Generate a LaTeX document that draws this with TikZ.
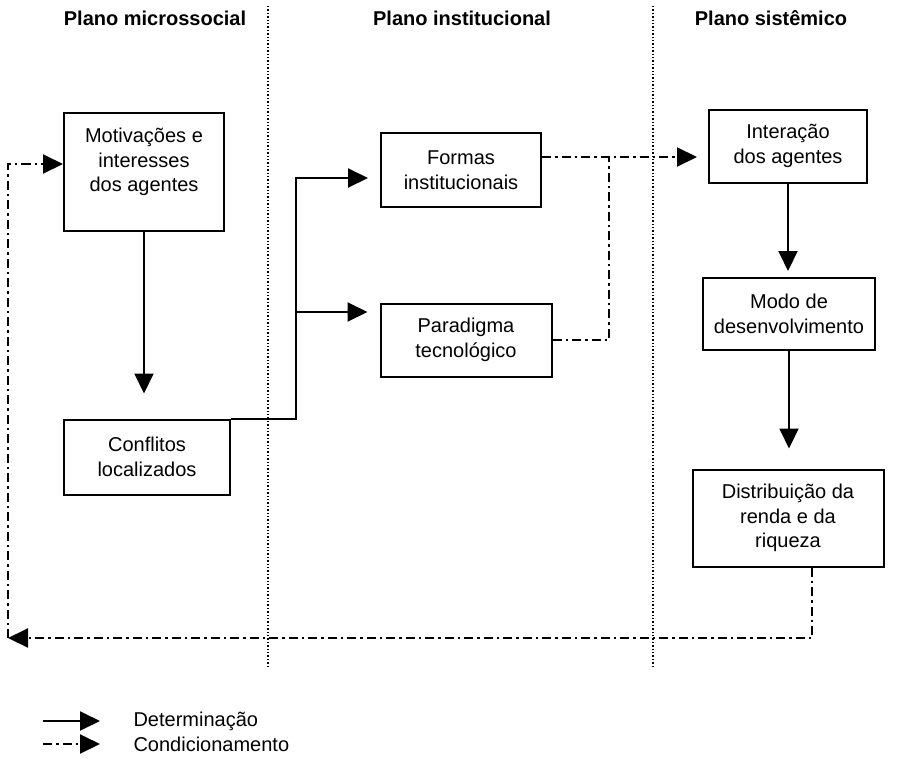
\documentclass[tikz,border=0pt]{standalone}
\usepackage{fontspec}
\setmainfont{Liberation Sans}
\usetikzlibrary{arrows.meta}

\begin{document}
\begin{tikzpicture}[x=1pt,y=-1pt,
  >={Triangle[length=20pt,width=19pt]},
  box/.style={draw,line width=2pt,align=center,inner sep=0pt,font=\fontsize{20}{24.5}\selectfont},
  det/.style={draw,line width=2pt,->},
  cond/.style={draw,line width=2pt,dash pattern=on 9pt off 4pt on 2.5pt off 4pt},
  sep/.style={draw,line width=1.4pt,dotted},
  head/.style={font=\fontsize{20}{24}\selectfont\bfseries},
  lab/.style={font=\fontsize{20}{24}\selectfont,anchor=west}]
\useasboundingbox (0,0) rectangle (912,758);

% planos
\node[head] (hmicro) at (155,18) {Plano microssocial};
\node[head] (hinst) at (462,18) {Plano institucional};
\node[head] (hsist) at (771,18) {Plano sistêmico};
\path[sep] (268,6) -- (268,667);
\path[sep] (653,6) -- (653,667);

% caixas
\node[box,minimum width=160pt,minimum height=118pt] (mot) at (144,172) {Motivações e\\interesses\\dos agentes\\\mbox{}};
\node[box,minimum width=166pt,minimum height=75pt] (conf) at (147,457) {Conflitos\\localizados};
\node[box,minimum width=160pt,minimum height=74pt] (formas) at (461,170) {Formas\\institucionais};
\node[box,minimum width=171pt,minimum height=73pt] (par) at (466,340) {Paradigma\\tecnológico};
\node[box,minimum width=158pt,minimum height=73pt] (inter) at (788,146) {Interação\\dos agentes};
\node[box,minimum width=172pt,minimum height=72pt] (modo) at (789,314) {Modo de\\desenvolvimento};
\node[box,minimum width=191pt,minimum height=97pt] (dist) at (788,518) {Distribuição da\\renda e da\\riqueza};

% determinacao
\path[det,shorten >=25pt] (mot.south) -- (mot.south |- conf.north);
\coordinate (j) at ([xshift=65pt]conf.north east);
\path[det,shorten >=12pt] (conf.north east) -- (j) |- ([yshift=-8pt]formas.west);
\coordinate (pin) at ([yshift=28pt]par.west);
\path[det,shorten >=12pt] (j |- pin) -- (pin);
\path[det,shorten >=6pt] (inter.south) -- (inter.south |- modo.north);
\path[det,shorten >=20pt] (modo.south) -- (modo.south |- dist.north);

% condicionamento
\coordinate (fout) at ([yshift=13pt]formas.east);
\coordinate (k) at ([xshift=56pt]par.east);
\path[cond] (par.east) -- (k) -- (k |- fout);
\path[cond,->,shorten >=11pt] (fout) -- (fout -| inter.west);
\coordinate (dout) at ([xshift=24pt]dist.south);
\coordinate (c1) at (8,638);
\path[cond,->] (dout) |- (c1);
\path[cond,->] (c1) |- ([yshift=8pt]mot.west);

% legenda
\node[lab] (tdet) at (130,721) {Determinação};
\node[lab] (tcond) at (130,744) {Condicionamento};
\coordinate (l1b) at ([xshift=-30pt]tdet.west);
\coordinate (l1a) at ([xshift=-87pt]tdet.west);
\coordinate (l2b) at ([xshift=-30pt]tcond.west);
\coordinate (l2a) at ([xshift=-87pt]tcond.west);
\path[det] (l1a) -- (l1b);
\path[cond,->] (l2a) -- (l2b);
\end{tikzpicture}
\end{document}
